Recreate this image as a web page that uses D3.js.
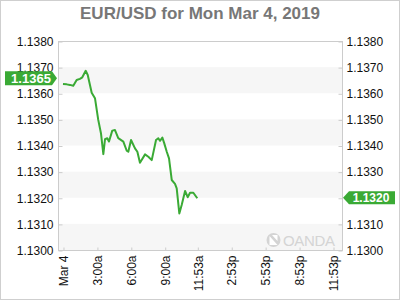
<!DOCTYPE html>
<html>
<head>
<meta charset="utf-8">
<script src="https://cdn.jsdelivr.net/npm/d3@7"></script>
<style>
  body { margin: 0; background: #fff; }
  svg { display: block; font-family: "Liberation Sans", Arial, sans-serif; }
</style>
</head>
<body>
<svg id="chart" width="400" height="300"></svg>
<script>
// hours since midnight Mar 4, 2019
const hours = [0, 0.33, 0.62, 0.91, 1.21, 1.50, 1.71, 2.01, 2.19, 2.54, 2.83, 3.12, 3.36, 3.57, 3.72, 3.92,
  4.07, 4.36, 4.60, 4.89, 5.34, 5.64, 5.78, 6.02, 6.37, 6.58, 6.81, 7.26, 7.55, 7.85, 8.23, 8.43, 8.58,
  8.79, 8.96, 9.18, 9.38, 9.62, 9.91, 10.06, 10.29, 10.50, 10.80, 11.03, 11.24, 11.53, 11.88];
const prices = [1.13635, 1.13634, 1.13632, 1.13629, 1.13651, 1.13655, 1.13661, 1.13686, 1.13670, 1.13602,
  1.13581, 1.13498, 1.13447, 1.13367, 1.13424, 1.13428, 1.13415, 1.13457, 1.13459, 1.13428, 1.13415,
  1.13380, 1.13376, 1.13421, 1.13389, 1.13376, 1.13334, 1.13366, 1.13357, 1.13344, 1.13421, 1.13428,
  1.13418, 1.13430, 1.13408, 1.13376, 1.13351, 1.13268, 1.13253, 1.13236, 1.13140, 1.13172, 1.13226,
  1.13202, 1.13219, 1.13219, 1.13198];

const yTicks = [1.130, 1.131, 1.132, 1.133, 1.134, 1.135, 1.136, 1.137, 1.138];
const xTickHours = [0, 3, 6, 9, 11.883, 14.883, 17.883, 20.883, 23.883];
const xTickLabels = ["Mar 4", "3:00a", "6:00a", "9:00a", "11:53a", "2:53p", "5:53p", "8:53p", "11:53p"];
const openPrice = 1.1365;
const lastPrice = 1.1320;

const svg = d3.select("#chart");
const green = "#3aaa35";
const frame = { left: 58, right: 342, top: 41, bottom: 250 };

const x = d3.scaleLinear().domain([-0.44, 24.68]).range([frame.left, frame.right]);
const y = d3.scaleLinear().domain([1.130, 1.138]).range([frame.bottom, frame.top]);

// outer border
svg.append("rect")
    .attr("x", 0.5).attr("y", 0.5)
    .attr("width", 399).attr("height", 299)
    .attr("fill", "none").attr("stroke", "#cfcfcf");

// title
svg.append("text")
    .attr("x", 200).attr("y", 19)
    .attr("text-anchor", "middle")
    .attr("font-size", 17).attr("font-weight", "bold")
    .attr("fill", "#777")
    .text("EUR/USD for Mon Mar 4, 2019");

// alternating bands
const bands = d3.pairs(yTicks).filter((d, i) => i % 2 === 0);
svg.append("g")
    .selectAll("rect")
    .data(bands)
    .join("rect")
    .attr("x", frame.left)
    .attr("width", frame.right - frame.left)
    .attr("y", d => y(d[1]))
    .attr("height", d => y(d[0]) - y(d[1]))
    .attr("fill", "#f6f6f6");

// watermark
const wm = svg.append("g").attr("fill", "#d4d4d4");
wm.append("circle").attr("cx", 273.5).attr("cy", 240).attr("r", 7);
wm.append("path")
    .attr("d", "M269.5,245 L269.5,236 L277.5,245 Z M277.5,235 L277.5,241 L272,235 Z")
    .attr("fill", "#fff");
wm.append("text")
    .attr("x", 283).attr("y", 246)
    .attr("font-size", 15)
    .attr("font-family", "'Liberation Sans', Arial, sans-serif")
    .attr("textLength", 52)
    .text("OANDA");

// frame
svg.append("rect")
    .attr("x", frame.left + 0.5).attr("y", frame.top + 0.5)
    .attr("width", frame.right - frame.left).attr("height", frame.bottom - frame.top)
    .attr("fill", "none").attr("stroke", "#cccccc");

const fmt = d3.format(".4f");

const left = svg.append("g")
    .attr("transform", `translate(${frame.left + 0.5},0.5)`)
    .call(d3.axisLeft(y).tickValues(yTicks).tickFormat(fmt).tickSize(-4).tickPadding(5));
// the last-price tag covers this side's matching label
const right = svg.append("g")
    .attr("transform", `translate(${frame.right + 0.5},0.5)`)
    .call(d3.axisRight(y).tickValues(yTicks)
        .tickFormat(d => Math.abs(d - lastPrice) < 1e-9 ? "" : fmt(d))
        .tickSize(-4).tickPadding(4));
const bottom = svg.append("g")
    .attr("transform", `translate(0.5,${frame.bottom + 0.5})`)
    .call(d3.axisBottom(x).tickValues(xTickHours).tickFormat((d, i) => xTickLabels[i]).tickSize(-3));

bottom.selectAll("text")
    .attr("text-anchor", "end")
    .attr("transform", "rotate(-90)")
    .attr("x", -5).attr("y", 0).attr("dy", "0.35em");

[left, right, bottom].forEach(g => {
    g.select(".domain").remove();
    g.selectAll("line").attr("stroke", "#cccccc");
    g.selectAll("text").attr("font-size", 12).attr("fill", "#111")
        .attr("font-family", "'Liberation Sans', Arial, sans-serif");
});

// price line
const line = d3.line()
    .x((d, i) => x(hours[i]))
    .y(d => y(d));
svg.append("path")
    .datum(prices)
    .attr("d", line)
    .attr("fill", "none")
    .attr("stroke", green)
    .attr("stroke-width", 2)
    .attr("stroke-linejoin", "round");

// open price tag (left)
const yo = y(openPrice) - 2;
svg.append("path")
    .attr("d", `M5,${yo - 7} L52,${yo - 7} L57,${yo} L52,${yo + 7} L5,${yo + 7} Z`)
    .attr("fill", green);
svg.append("text")
    .attr("x", 31).attr("y", yo).attr("dy", "0.36em")
    .attr("text-anchor", "middle")
    .attr("font-size", 13).attr("font-weight", "bold")
    .attr("fill", "#fff")
    .text(fmt(openPrice));

// last price tag (right)
const yl = y(lastPrice);
svg.append("path")
    .attr("d", `M343,${yl} L349,${yl - 6.5} L395,${yl - 6.5} L395,${yl + 6.5} L349,${yl + 6.5} Z`)
    .attr("fill", green);
svg.append("text")
    .attr("x", 371).attr("y", yl).attr("dy", "0.36em")
    .attr("text-anchor", "middle")
    .attr("font-size", 12).attr("font-weight", "bold")
    .attr("fill", "#fff")
    .text(fmt(lastPrice));
</script>
</body>
</html>
